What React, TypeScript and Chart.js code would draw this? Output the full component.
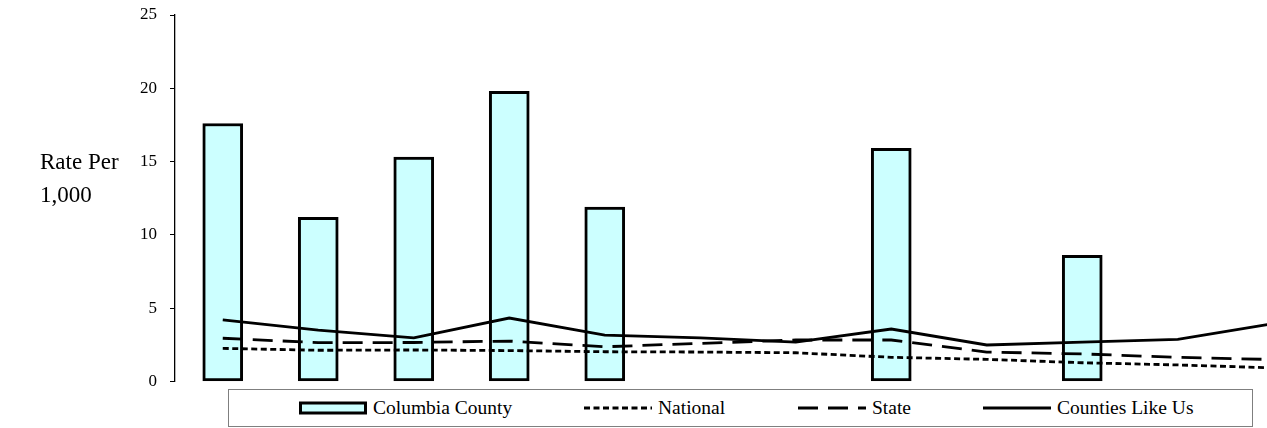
import React, { useEffect, useRef } from "react";
import { Chart, registerables } from "chart.js";

Chart.register(...registerables);

const categories = ["1", "2", "3", "4", "5", "6", "7", "8", "9", "10", "11", "12"];
const columbiaCounty: (number | null)[] = [17.6, 11.2, 15.3, 19.8, 11.9, null, null, 15.9, null, 8.6, null, null];
const national = [2.26, 2.13, 2.15, 2.11, 2.03, 2.01, 1.96, 1.65, 1.51, 1.28, 1.13, 0.93];
const state = [2.95, 2.65, 2.66, 2.76, 2.37, 2.6, 2.83, 2.83, 2.01, 1.88, 1.65, 1.5];
const countiesLikeUs = [4.2, 3.51, 2.97, 4.33, 3.17, 2.97, 2.69, 3.58, 2.49, 2.69, 2.88, 3.95];
const yTicks = [0, 5, 10, 15, 20, 25];
const yTitle = ["Rate Per", "1,000"];
const legendLabels = ["Columbia County", "National", "State", "Counties Like Us"];

const SERIF = '"Liberation Serif", "Times New Roman", serif';

export default function App() {
  const canvasRef = useRef<HTMLCanvasElement | null>(null);

  useEffect(() => {
    document.body.style.margin = "0";
    const canvas = canvasRef.current;
    if (!canvas) return;
    const chart = new Chart(canvas, {
      type: "bar",
      data: {
        labels: categories,
        datasets: [
          {
            type: "bar",
            label: legendLabels[0],
            data: columbiaCounty,
            backgroundColor: "#ccffff",
            borderColor: "#000000",
            borderWidth: 3,
            borderSkipped: false,
            barThickness: 40,
            order: 1,
          },
          {
            type: "line",
            label: legendLabels[1],
            data: national,
            borderColor: "#000000",
            borderWidth: 2.8,
            borderDash: [6, 3.5],
            pointRadius: 0,
            tension: 0,
            fill: false,
            order: 0,
          },
          {
            type: "line",
            label: legendLabels[2],
            data: state,
            borderColor: "#000000",
            borderWidth: 2.8,
            borderDash: [20, 10],
            pointRadius: 0,
            tension: 0,
            fill: false,
            order: 0,
          },
          {
            type: "line",
            label: legendLabels[3],
            data: countiesLikeUs,
            borderColor: "#000000",
            borderWidth: 2.8,
            pointRadius: 0,
            tension: 0,
            fill: false,
            order: 0,
          },
        ] as any,
      },
      options: {
        responsive: false,
        animation: false,
        layout: { padding: { left: 0, top: 15, right: 9, bottom: 46.5 } },
        plugins: {
          legend: { display: false },
          tooltip: { enabled: false },
        },
        scales: {
          x: {
            type: "category",
            display: false,
            offset: true,
            grid: { display: false },
          },
          y: {
            min: 0,
            max: 25,
            afterFit: (scale: any) => {
              scale.width = 175;
              scale.paddingTop = 0;
              scale.paddingBottom = 0;
            },
            afterBuildTicks: (scale: any) => {
              scale.ticks = yTicks.map((v) => ({ value: v }));
            },
            ticks: {
              color: "#000000",
              padding: 13,
              font: { family: SERIF, size: 17 },
            },
            grid: {
              drawOnChartArea: false,
              drawTicks: true,
              tickLength: 5,
              color: "#000000",
              lineWidth: 1,
            },
            border: { display: true, color: "#000000", width: 1.3 },
          },
        },
      },
    });
    return () => chart.destroy();
  }, []);

  const itemLefts = [70, 355, 569, 754];

  const swatch = (i: number) => {
    if (i === 0) {
      return (
        <svg width={68} height={14} style={{ display: "block" }}>
          <rect x={1.5} y={2} width={65} height={10} fill="#ccffff" stroke="#000" strokeWidth={3} />
        </svg>
      );
    }
    const dash = i === 1 ? "6 3.5" : i === 2 ? "20 10" : undefined;
    return (
      <svg width={68} height={14} style={{ display: "block" }}>
        <line x1={0} y1={7} x2={68} y2={7} stroke="#000" strokeWidth={2.8} strokeDasharray={dash} />
      </svg>
    );
  };

  return (
    <div style={{ position: "relative", width: 1267, height: 428, overflow: "hidden", background: "#fff" }}>
      <canvas ref={canvasRef} width={1330} height={428} style={{ position: "absolute", left: 0, top: 0, width: 1330, height: 428 }} />
      <div
        style={{
          position: "absolute",
          left: 40,
          top: 146,
          fontFamily: SERIF,
          fontSize: 23,
          lineHeight: "32.5px",
          color: "#000",
        }}
      >
        {yTitle.map((t) => (
          <div key={t}>{t}</div>
        ))}
      </div>
      <div
        style={{
          position: "absolute",
          left: 228,
          top: 389,
          width: 1025,
          height: 38,
          boxSizing: "border-box",
          border: "1px solid #7f7f7f",
          background: "#fff",
        }}
      >
        {legendLabels.map((lab, i) => (
          <div
            key={lab}
            style={{
              position: "absolute",
              left: itemLefts[i],
              top: 0,
              height: 36,
              display: "flex",
              alignItems: "center",
              whiteSpace: "nowrap",
            }}
          >
            {swatch(i)}
            <span
              style={{
                marginLeft: 6,
                fontFamily: SERIF,
                fontSize: 19.5,
                lineHeight: "22px",
                color: "#000",
              }}
            >
              {lab}
            </span>
          </div>
        ))}
      </div>
    </div>
  );
}
